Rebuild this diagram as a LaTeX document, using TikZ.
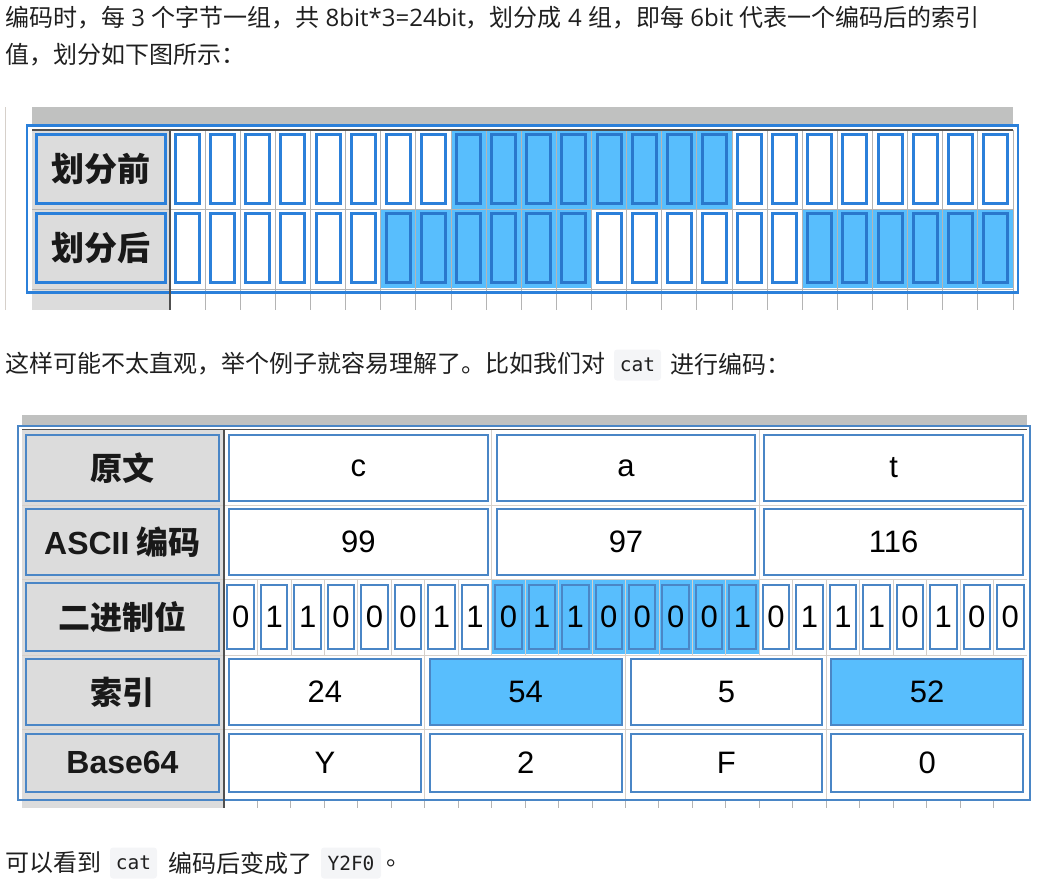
\documentclass[tikz,border=0pt]{standalone}
\usepackage{fontspec}
\setmainfont{Noto Sans CJK SC}
\newfontfamily\arialf{Liberation Sans}
\newfontfamily\monof{DejaVu Sans Mono}
\newfontfamily\segf{Open Sans}
\newcommand\lt[1]{{\segf #1}}
\definecolor{txt}{HTML}{1F1F1F}
\definecolor{blueA}{HTML}{2B80DA}
\definecolor{blueAd}{HTML}{2A78CC}
\definecolor{blueB}{HTML}{4A86C6}
\definecolor{hl}{HTML}{58BEFD}
\definecolor{labgray}{HTML}{DCDCDC}
\definecolor{band}{HTML}{C0C1C0}
\definecolor{gridc}{HTML}{B4B4B4}
\definecolor{gridl}{HTML}{D6D0CA}
\definecolor{codebg}{HTML}{F4F5F7}
\definecolor{darkl}{HTML}{505050}
\tikzset{
  body/.style={anchor=west, inner sep=0pt, font=\fontsize{24}{24}\selectfont, text=txt},
  codebox/.style={fill=codebg, rounded corners=3pt, inner sep=0pt, minimum height=31pt,
    font=\monof\fontsize{19.5}{19.5}\selectfont, text=txt},
  labone/.style={draw=blueA, line width=3pt, fill=labgray, minimum width=129pt, minimum height=69pt,
    inner sep=0pt, font=\bfseries\fontsize{33}{33}\selectfont, text=black!90},
  bitone/.style={draw=blueA, line width=3pt, fill=white, minimum width=24pt, minimum height=69pt, inner sep=0pt},
  bitoneh/.style={bitone, fill=hl, draw=blueAd},
  labtwo/.style={draw=blueB, line width=2pt, fill=labgray, minimum width=193pt,
    inner sep=0pt, font=\bfseries\fontsize{32}{32}\selectfont, text=black!90},
  celltwo/.style={draw=blueB, line width=2pt, fill=white, inner sep=0pt,
    font=\arialf\fontsize{31}{31}\selectfont, text=black},
  celltwoh/.style={celltwo, fill=hl},
  gridline/.style={draw=gridc, line width=1pt},
  gridlight/.style={draw=gridl, line width=0.8pt},
}
\begin{document}
\begin{tikzpicture}[x=1pt,y=-1pt]
\useasboundingbox (0,0) rectangle (1045,895);
% ---------------- text lines ----------------
\node[body] (l1) at (5,18) {编码时，每\lt{ 3 }个字节一组，共\lt{ 8bit*3=24bit}，划分成\lt{ 4 }组，即每\lt{ 6bit }代表一个编码后的索引};
\node[body] (l2) at (5,55) {值，划分如下图所示：};
\node[body] (l3a) at (5,364) {这样可能不太直观，举个例子就容易理解了。比如我们对};
\node[codebox, minimum width=47pt] (l3c) at (637.5,365) {cat};
\node[body] (l3b) at (670,364) {进行编码：};
\node[body] (l4a) at (5,863) {可以看到};
\node[codebox, minimum width=47pt] (l4c) at (133.5,863) {cat};
\node[body] (l4b) at (168,863) {编码后变成了};
\node[codebox, minimum width=60pt] (l4d) at (351,863) {Y2F0};
\node[body] (l4e) at (386,863) {。};
% ---------------- table 1 ----------------
\draw[draw=gridl, line width=1pt] (5,107) -- (5,310);
\fill[band] (32,107) rectangle (1013,125);
\fill[labgray] (32,130) rectangle (170,310);
\fill[hl] (451,130) rectangle (732,208.5);
\fill[hl] (380.75,209.5) rectangle (591.5,288);
\fill[hl] (802.25,209.5) rectangle (1013,288);
\foreach \k in {1,...,24}{
  \pgfmathsetmacro{\gx}{170+35.125*\k}
  \draw[gridline] (\gx,130) -- (\gx,310);
}
\draw[gridline] (32,209) -- (1013,209);
\draw[gridline] (32,289) -- (1013,289);
\draw[draw=blueA, line width=2.5pt] (27,125.5) rectangle (1018,292.5);
\draw[darkl, line width=1.5pt] (32,130) -- (1013,130);
\draw[darkl, line width=1.2pt] (170,130) -- (170,310);
\node[labone] (p1) at (101,169) {划分前};
\node[labone] (p2) at (101,248) {划分后};
\foreach \k in {0,...,23}{
  \pgfmathsetmacro{\cx}{170+35.125*(\k+0.5)}
  \pgfmathtruncatemacro{\ha}{(\k>7)&&(\k<16)}
  \pgfmathtruncatemacro{\hb}{((\k>5)&&(\k<12))||(\k>17)}
  \ifnum\ha=1
    \node[bitoneh] (a\k) at (\cx,169) {};
  \else
    \node[bitone] (a\k) at (\cx,169) {};
  \fi
  \ifnum\hb=1
    \node[bitoneh] (b\k) at (\cx,248) {};
  \else
    \node[bitone] (b\k) at (\cx,248) {};
  \fi
}
% ---------------- table 2 ----------------
\fill[band] (22,415) rectangle (1027,426);
\fill[labgray] (22,429) rectangle (224,808);
\fill[hl] (491.67,580) rectangle (759.33,654);
% grid
\foreach \y in {505,579,655,729} { \draw[gridlight] (22,\y) -- (1027,\y); }
\foreach \x in {491.67,759.33} { \draw[gridlight] (\x,429) -- (\x,579); }
\foreach \k in {1,...,23}{
  \pgfmathsetmacro{\gx}{224+33.4583*\k}
  \draw[gridlight] (\gx,579) -- (\gx,655);
  \draw[gridline] (\gx,800) -- (\gx,808);
}
\foreach \x in {424.75,625.5,826.25} { \draw[gridlight] (\x,655) -- (\x,800); }
\draw[draw=blueB, line width=2pt] (18,426) rectangle (1030,800);
\draw[darkl, line width=1.5pt] (22,429.5) -- (1027,429.5);
\draw[darkl, line width=1.2pt] (224,429) -- (224,808);
% labels
\node[labtwo, minimum height=66pt] (r1) at (122.5,468) {原文};
\node[labtwo, minimum height=66pt] (r2) at (122.5,542) {{\arialf ASCII} 编码};
\node[labtwo, minimum height=68pt] (r3) at (122.5,617) {二进制位};
\node[labtwo, minimum height=66pt] (r4) at (122.5,692) {索引};
\node[labtwo, minimum height=58pt] (r5) at (122.5,762.5) {{\arialf Base64}};
% rows 1 and 2
\foreach \t/\n [count=\b from 0] in {c/99,a/97,t/116}{
  \pgfmathsetmacro{\cx}{224+8*33.4583*(\b+0.5)+0.5}
  \node[celltwo, minimum width=258.7pt, minimum height=66pt] (o\b) at (\cx,468) {\t};
  \node[celltwo, minimum width=258.7pt, minimum height=66pt] (s\b) at (\cx,542) {\n};
}
% row 3
\foreach \d [count=\k from 0] in {0,1,1,0,0,0,1,1,0,1,1,0,0,0,0,1,0,1,1,1,0,1,0,0}{
  \pgfmathsetmacro{\cx}{224+33.4583*(\k+0.5)}
  \pgfmathtruncatemacro{\hc}{(\k>7)&&(\k<16)}
  \ifnum\hc=1
    \node[celltwoh, minimum width=26.5pt, minimum height=64pt] (d\k) at (\cx,617) {\d};
  \else
    \node[celltwo, minimum width=26.5pt, minimum height=64pt] (d\k) at (\cx,617) {\d};
  \fi
}
% rows 4 and 5
\foreach \i/\c/\h [count=\g from 0] in {24/Y/0,54/2/1,5/F/0,52/0/1}{
  \pgfmathsetmacro{\cx}{224+6*33.4583*(\g+0.5)+0.5}
  \ifnum\h=1
    \node[celltwoh, minimum width=191.75pt, minimum height=66pt] (x\g) at (\cx,692) {\i};
  \else
    \node[celltwo, minimum width=191.75pt, minimum height=66pt] (x\g) at (\cx,692) {\i};
  \fi
  \node[celltwo, minimum width=191.75pt, minimum height=58pt] (y\g) at (\cx,762.5) {\c};
}
\end{tikzpicture}
\end{document}
